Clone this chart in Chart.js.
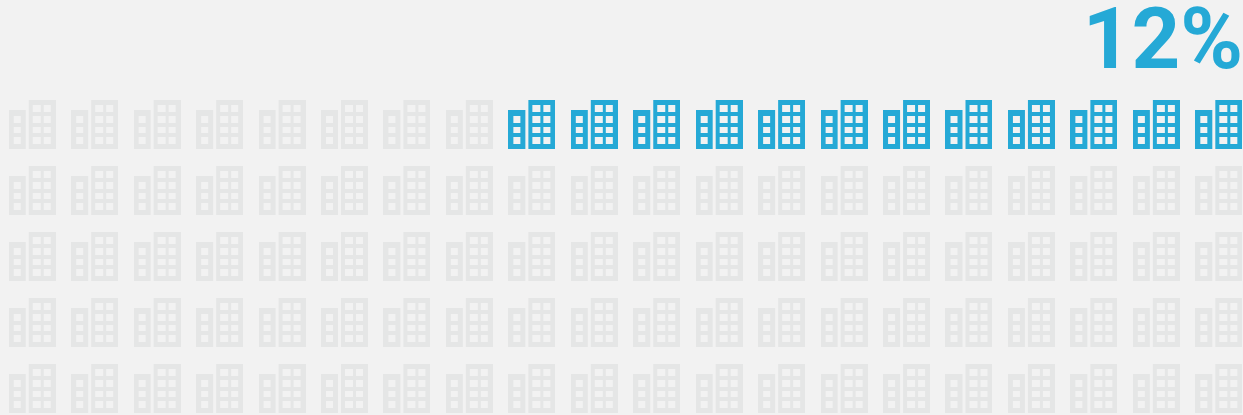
<!DOCTYPE html>
<html>
<head>
<meta charset="utf-8">
<title>12%</title>
<script src="https://cdn.jsdelivr.net/npm/chart.js@4"></script>
<style>
    html, body { margin: 0; padding: 0; background: #f2f2f2; overflow: hidden; }
    canvas { display: block; }
</style>
</head>
<body>
<canvas id="chart" width="1243" height="415"></canvas>
<script>
// chart data
const columns = [1, 2, 3, 4, 5, 6, 7, 8, 9, 10, 11, 12, 13, 14, 15, 16, 17, 18, 19, 20];
const rows = [1, 2, 3, 4, 5];
const highlightedPerRow = [12, 0, 0, 0, 0]; // counted from the right end of each row
const headline = '12%';

const BLUE = '#25a9d6';
const GRAY = '#e5e6e6';

// draw one building icon on its own canvas, used as the point style
function makeBuilding(color) {
    const icon = document.createElement('canvas');
    icon.width = 47;
    icon.height = 49;
    const ctx = icon.getContext('2d');
    ctx.fillStyle = color;
    ctx.fillRect(0, 10, 17, 39);
    ctx.fillRect(20, 0, 27, 49);

    // windows are cut out so the background shows through
    [16, 26.6, 37.3].forEach(y => ctx.clearRect(5, y, 7.3, 6.8));
    [5, 16, 26.6, 37.3].forEach(y => {
        ctx.clearRect(24.4, y, 7.3, 6.8);
        ctx.clearRect(35, y, 7.3, 6.8);
    });
    return icon;
}

// split the grid into highlighted and plain points
const plainPoints = [];
const highlightedPoints = [];
rows.forEach((row, r) => {
    columns.forEach((col, c) => {
        const isOn = c >= columns.length - highlightedPerRow[r];
        (isOn ? highlightedPoints : plainPoints).push({ x: col, y: row });
    });
});

new Chart(document.getElementById('chart'), {
    type: 'scatter',
    data: {
        datasets: [{
            data: plainPoints,
            pointStyle: makeBuilding(GRAY),
            pointRadius: 24,
            clip: false
        }, {
            data: highlightedPoints,
            pointStyle: makeBuilding(BLUE),
            pointRadius: 24,
            clip: false
        }]
    },
    options: {
        responsive: false,
        animation: false,
        events: [],
        layout: {
            autoPadding: false, // otherwise the point radius shrinks the plot area
            padding: { left: 0, right: 0, top: 0, bottom: 26.5 }
        },
        plugins: {
            legend: { display: false },
            tooltip: { enabled: false },
            title: {
                display: true,
                text: headline,
                align: 'end',
                color: BLUE,
                font: { family: 'Roboto', weight: 'bold', size: 85, lineHeight: 1 },
                padding: { top: 4, bottom: 35.5 }
            }
        },
        scales: {
            x: { type: 'linear', display: false, min: 0.484, max: 20.388 },
            y: { type: 'linear', display: false, reverse: true, min: 1, max: 5 }
        }
    }
});
</script>
</body>
</html>
